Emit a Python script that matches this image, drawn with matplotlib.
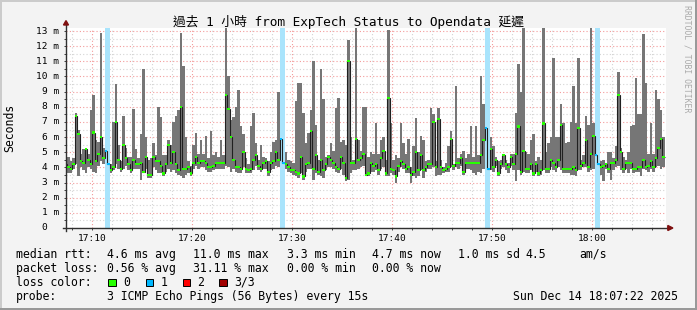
import matplotlib
matplotlib.use("Agg")
import matplotlib.pyplot as plt
import numpy as np
from matplotlib.patches import Polygon, Rectangle
from matplotlib.ticker import MultipleLocator

# graph window in minutes after 17:00 (17:07:22 -> 18:07:22), 15 s steps
t_start, t_end = 7 + 22 / 60, 67 + 22 / 60
first_step = 7.25
step = 0.25

median = [
    4.2, 4.0, 3.9, 4.2, 7.4, 6.2, 4.4, 4.3, 5.2, 4.5,
    4.2, 6.3, 4.4, 4.9, 6.0, 4.6, 5.1, 4.2, 3.8, 4.0,
    7.0, 4.5, 3.9, 5.5, 4.6, 4.2, 3.8, 4.5, 4.2, 4.2,
    4.3, 3.7, 4.7, 3.5, 3.5, 4.7, 4.4, 4.4, 4.1, 3.6,
    4.2, 5.5, 4.3, 5.0, 4.2, 3.8, 8.0, 3.9, 3.9, 4.0,
    3.6, 4.3, 4.7, 4.3, 4.4, 4.4, 4.3, 4.0, 4.0, 4.1,
    4.3, 4.3, 4.3, 4.3, 8.8, 7.85, 6.0, 4.5, 4.0, 4.0,
    3.9, 5.0, 3.9, 3.8, 3.9, 4.5, 4.8, 4.1, 3.9, 4.3,
    4.4, 3.7, 4.3, 4.4, 5.0, 4.5, 5.9, 4.3, 4.2, 4.0,
    3.8, 3.8, 3.7, 3.6, 4.7, 3.4, 4.2, 4.3, 6.4, 3.9,
    4.8, 3.7, 4.5, 3.8, 4.2, 4.7, 4.5, 4.3, 4.0, 3.9,
    4.7, 4.3, 3.3, 11.0, 4.3, 4.3, 5.9, 4.5, 4.6, 4.9,
    3.5, 3.6, 4.3, 4.1, 4.2, 3.8, 4.6, 5.1, 3.6, 8.6,
    3.9, 3.8, 3.4, 4.1, 4.4, 4.2, 3.9, 4.0, 3.5, 3.7,
    5.0, 3.8, 4.8, 3.8, 4.0, 4.2, 4.2, 7.0, 4.0, 7.2,
    4.0, 3.8, 3.9, 4.0, 5.9, 4.1, 4.3, 4.3, 4.6, 3.7,
    4.3, 4.3, 4.3, 4.3, 4.3, 4.3, 4.8, 5.8, 6.6, 3.9,
    5.2, 4.0, 4.5, 3.6, 4.2, 4.8, 4.2, 4.0, 4.7, 4.2,
    4.9, 6.7, 3.7, 5.1, 3.9, 3.9, 4.2, 3.6, 4.2, 3.6,
    3.8, 6.9, 3.9, 3.9, 4.5, 4.3, 4.0, 4.5, 6.8, 3.9,
    3.9, 3.9, 3.9, 4.0, 3.8, 6.6, 4.1, 4.3, 5.8, 4.0,
    4.9, 6.1, 4.8, 4.2, 4.0, 4.1, 4.2, 3.9, 4.3, 4.3,
    4.5, 8.75, 5.0, 3.9, 4.3, 4.3, 4.3, 3.9, 3.9, 4.0,
    4.0, 4.5, 4.0, 4.1, 4.4, 4.0, 4.6, 5.3, 5.9, 4.7,
]
ping_max = [
    8.8, 4.7, 4.4, 4.6, 7.6, 6.5, 4.9, 5.2, 5.3, 4.9,
    7.8, 8.8, 5.8, 5.7, 12.9, 5.3, 5.1, 4.2, 4.2, 7.0,
    9.5, 5.5, 4.4, 7.4, 5.3, 4.7, 4.7, 7.85, 5.2, 4.6,
    6.2, 10.5, 6.0, 4.5, 4.6, 5.6, 4.8, 8.0, 7.3, 4.8,
    4.8, 5.8, 5.5, 7.0, 7.4, 7.8, 12.9, 10.7, 6.0, 4.4,
    4.1, 5.5, 6.3, 4.9, 5.8, 4.9, 6.1, 4.6, 6.4, 4.8,
    5.0, 4.7, 5.8, 4.8, 13.2, 10.0, 7.1, 7.3, 8.0, 9.1,
    6.7, 6.2, 4.6, 4.2, 6.7, 7.6, 5.6, 4.5, 5.5, 4.7,
    4.6, 4.4, 5.0, 5.7, 5.8, 9.0, 5.9, 4.3, 5.0, 4.5,
    4.4, 4.3, 8.4, 9.6, 9.6, 7.6, 5.6, 6.3, 7.8, 11.0,
    6.8, 4.5, 10.5, 8.5, 4.7, 4.8, 5.6, 5.1, 7.9, 8.6,
    5.7, 5.8, 5.5, 12.4, 6.0, 4.5, 13.2, 5.8, 5.1, 8.0,
    8.0, 4.7, 5.0, 4.9, 6.9, 4.9, 5.8, 6.0, 4.5, 13.1,
    6.9, 4.5, 4.8, 4.6, 6.9, 5.6, 4.9, 5.9, 4.0, 5.4,
    7.25, 5.0, 6.1, 5.8, 4.4, 4.5, 7.9, 7.5, 4.4, 7.9,
    4.5, 4.0, 4.3, 5.4, 6.4, 4.2, 9.4, 4.6, 4.9, 5.1,
    4.6, 4.9, 6.7, 4.7, 6.7, 4.8, 10.0, 8.2, 6.6, 3.9,
    6.0, 5.4, 4.7, 4.4, 4.5, 4.9, 4.5, 4.3, 4.9, 4.9,
    7.6, 10.8, 9.0, 13.2, 5.0, 4.9, 5.8, 6.2, 4.4, 4.7,
    4.5, 13.2, 5.0, 5.6, 6.0, 11.2, 6.0, 6.0, 8.2, 6.9,
    5.6, 5.7, 7.0, 9.4, 6.9, 11.2, 4.5, 4.8, 7.4, 6.8,
    13.2, 6.9, 4.8, 4.2, 4.4, 4.5, 4.3, 5.0, 5.0, 4.6,
    5.4, 10.3, 5.3, 4.7, 4.5, 5.0, 6.7, 6.8, 9.9, 7.5,
    7.5, 12.8, 9.6, 4.9, 6.9, 4.9, 9.1, 8.5, 7.8, 6.0,
]
ping_min = [
    4.0, 3.6, 3.6, 3.9, 4.2, 3.4, 4.0, 3.8, 3.6, 4.0,
    3.9, 3.7, 3.6, 4.1, 4.4, 4.2, 5.1, 4.2, 3.6, 3.8,
    4.2, 3.9, 3.7, 3.9, 4.1, 3.8, 3.6, 3.9, 3.9, 3.9,
    3.2, 3.6, 3.9, 3.3, 3.3, 4.0, 3.8, 3.6, 3.6, 3.4,
    3.7, 3.9, 3.7, 3.8, 3.6, 3.5, 3.4, 3.3, 3.5, 3.6,
    3.4, 3.9, 4.1, 3.9, 4.0, 4.0, 3.8, 3.7, 3.7, 3.8,
    3.9, 3.9, 3.9, 3.9, 4.1, 4.0, 3.7, 3.9, 3.7, 3.6,
    3.6, 4.0, 3.6, 3.6, 3.6, 3.8, 4.1, 3.8, 3.7, 3.9,
    3.9, 3.4, 3.8, 3.9, 4.1, 4.0, 5.9, 4.3, 3.9, 3.7,
    3.6, 3.5, 3.4, 3.3, 3.6, 3.2, 3.7, 3.9, 3.9, 3.2,
    3.6, 3.5, 3.4, 3.3, 3.8, 4.0, 4.0, 3.9, 3.7, 3.6,
    3.9, 3.5, 3.1, 3.2, 3.6, 3.8, 3.8, 3.9, 4.0, 4.1,
    3.4, 3.4, 3.7, 3.7, 3.8, 3.5, 3.9, 4.0, 3.4, 3.4,
    3.6, 3.5, 3.0, 3.7, 4.0, 3.9, 3.6, 3.6, 3.0, 3.4,
    3.3, 3.4, 3.8, 3.3, 3.7, 3.9, 3.9, 4.0, 3.4, 3.5,
    3.5, 3.6, 3.7, 3.7, 4.0, 3.8, 4.0, 3.9, 4.1, 3.5,
    3.9, 3.9, 3.8, 3.6, 3.5, 3.7, 3.6, 3.9, 6.6, 3.9,
    3.8, 3.7, 4.1, 3.4, 3.9, 4.0, 3.8, 3.6, 4.1, 3.8,
    3.1, 3.8, 3.5, 3.7, 3.6, 3.6, 3.8, 3.4, 3.7, 3.4,
    3.5, 3.8, 3.6, 3.6, 4.0, 3.8, 3.7, 4.0, 3.8, 3.6,
    3.6, 3.6, 3.5, 3.5, 3.4, 3.8, 3.8, 4.0, 4.0, 3.7,
    3.8, 3.9, 4.8, 4.2, 3.5, 3.1, 3.9, 3.6, 3.2, 3.8,
    4.0, 4.1, 3.8, 3.6, 3.9, 3.6, 3.9, 3.6, 3.7, 3.7,
    3.4, 3.9, 3.8, 3.7, 3.9, 3.7, 4.0, 4.1, 3.9, 4.0,
]
# steps where 1 of 3 pings was lost
lost_pings = {16: 1, 17: 1, 86: 1, 87: 1, 168: 1, 169: 1, 212: 1, 213: 1}

loss_colors = {0: "#26ff00", 1: "#00b8ff", 2: "#ff0000", 3: "#a10000"}
loss_bar = "#a9e4fc"
smoke = "#767676"

x_major = [10, 20, 30, 40, 50, 60]
x_labels = ["17:10", "17:20", "17:30", "17:40", "17:50", "18:00"]
y_values = list(range(0, 14))

W, H = 697, 310
def fx(px):
    return px / W
def fy(py):
    return 1 - py / H

mono = "DejaVu Sans Mono"
plt.rcParams["font.family"] = [mono, "Noto Sans CJK TC"]

fig = plt.figure(figsize=(W / 100, H / 100), dpi=100, facecolor="#f3f3f3")
ax = fig.add_axes([fx(66), fy(228), 600 / W, 200 / H])
ax.set_facecolor("white")

n = len(median)
edges = first_step + step * np.arange(n + 1)
left = edges[:-1]
med = np.array(median)
hi = np.array(ping_max)
lo = np.array(ping_min)
loss = np.array([lost_pings.get(i, 0) for i in range(n)])

for i in np.nonzero(loss)[0]:
    ax.axvspan(edges[i], edges[i + 1], color=loss_bar, lw=0, zorder=1)

ax.bar(left, hi - lo, bottom=lo, width=step, align="edge", color=smoke, lw=0, zorder=2)
ax.stairs(med, edges, baseline=None, color="#202020", lw=0.8, zorder=3)
d = 0.07
ax.bar(left, 2 * d, bottom=med - d, width=step, align="edge",
       color=[loss_colors[v] for v in loss], lw=0, zorder=4)

ax.set_xlim(t_start, t_end)
ax.set_ylim(0, 13.2)
ax.set_xticks(x_major)
ax.set_xticklabels(x_labels, fontsize=6.8, family=mono)
ax.xaxis.set_minor_locator(MultipleLocator(2))
ax.set_yticks(y_values)
ax.yaxis.set_minor_locator(MultipleLocator(0.5))
ax.tick_params(axis="x", which="both", length=1.5, width=0.7, color="#404040", pad=2.5)
ax.tick_params(axis="y", which="both", length=1.5, width=0.7, color="#404040", labelleft=False)
ax.grid(which="minor", color="#d4d4d4", linestyle=(0, (1, 2)), lw=0.8)
ax.grid(which="major", color="#f39a9a", linestyle=(0, (1, 2)), lw=0.8)
ax.set_axisbelow(True)
for s in ax.spines.values():
    s.set_visible(False)

ytf = ax.get_yaxis_transform()
for v in y_values:
    if v == 0:
        ax.text(-19.3 / 600, v, "0", transform=ytf, ha="right", va="center",
                fontsize=6.8, family=mono)
    else:
        ax.text(-6.7 / 600, v, f"{v} m", transform=ytf, ha="right", va="center",
                fontsize=6.8, family=mono)

# axes with arrows
axis_col = "#303030"
arrow_col = "#7f1010"
ax.plot([0, 0], [-0.015, 1.02], transform=ax.transAxes, color=axis_col, lw=1, clip_on=False, zorder=6)
ax.plot([-0.005, 1.004], [0, 0], transform=ax.transAxes, color=axis_col, lw=1, clip_on=False, zorder=6)
ax.add_patch(Polygon([[-2.5 / 600, 1.015], [2.5 / 600, 1.015], [0, 1.037]], closed=True,
                     transform=ax.transAxes, color=arrow_col, clip_on=False, zorder=7))
ax.add_patch(Polygon([[1.003, -0.0125], [1.003, 0.0125], [1.0115, 0]], closed=True,
                     transform=ax.transAxes, color=arrow_col, clip_on=False, zorder=7))

fig.text(0.5, fy(21.7), "過去 1 小時 from ExpTech Status to Opendata 延遲",
         ha="center", va="center", fontsize=9.2)
fig.text(fx(10), fy(128), "Seconds", rotation=90, ha="center", va="center",
         fontsize=8.3, family=mono)
fig.text(fx(687.3), fy(59), "RRDTOOL / TOBI OETIKER", rotation=270, ha="center", va="center",
         fontsize=5.9, family=mono, color="#aaaaaa")

fs = 8.3
rows = [
    (254.3, [(16, "median rtt:"), (107.3, "4.6 ms avg"), (193.3, "11.0 ms max"),
             (286.7, "3.3 ms min"), (372.3, "4.7 ms now"), (458.3, "1.0 ms sd"),
             (525.7, "4.5"), (579.3, "am/s")]),
    (268.3, [(16, "packet loss:"), (107.3, "0.56 % avg"), (193.3, "31.11 % max"),
             (286.7, "0.00 % min"), (372.3, "0.00 % now")]),
    (282.3, [(16, "loss color:"), (123.3, "0"), (160.7, "1"), (197.3, "2"), (234.3, "3/3")]),
    (296.3, [(16, "probe:"), (107.3, "3 ICMP Echo Pings (56 Bytes) every 15s"),
             (513.3, "Sun Dec 14 18:07:22 2025")]),
]
for y, items in rows:
    for x, s in items:
        fig.text(fx(x), fy(y), s, ha="left", va="center", fontsize=fs, family=mono)

for x, k in [(108.3, 0), (145.7, 1), (182.7, 2), (219.3, 3)]:
    fig.add_artist(Rectangle((fx(x), fy(286)), 7.5 / W, 7.5 / H, transform=fig.transFigure,
                             facecolor=loss_colors[k], edgecolor="black", lw=0.7))

# bevelled frame
fig.add_artist(Rectangle((0, fy(2)), 1, 2 / H, transform=fig.transFigure, color="#cbcbcb", lw=0))
fig.add_artist(Rectangle((0, 0), 2 / W, 1, transform=fig.transFigure, color="#cbcbcb", lw=0))
fig.add_artist(Rectangle((0, 0), 1, 2 / H, transform=fig.transFigure, color="#999999", lw=0))
fig.add_artist(Rectangle((1 - 2 / W, 0), 2 / W, 1, transform=fig.transFigure, color="#999999", lw=0))

fig.savefig("out.png", dpi=100, facecolor=fig.get_facecolor())
